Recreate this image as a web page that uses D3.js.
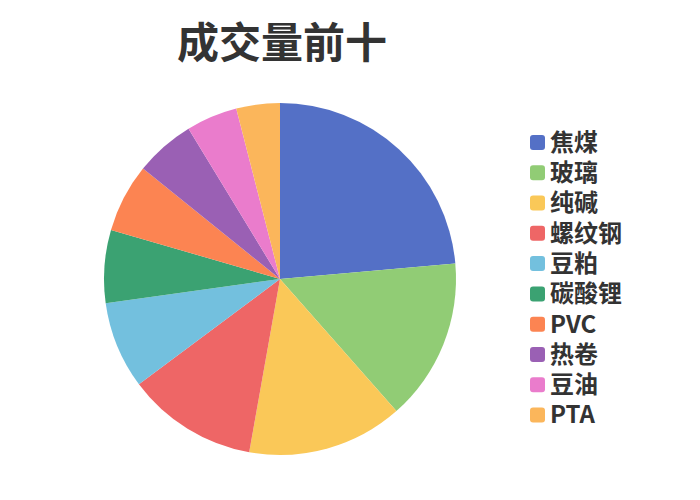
<!DOCTYPE html>
<html>
<head>
<meta charset="utf-8">
<script src="https://cdn.jsdelivr.net/npm/d3@7"></script>
<style>
  body { margin: 0; background: #fff; }
  text { font-family: "Noto Sans CJK SC", "Noto Sans", sans-serif; }
</style>
</head>
<body>
<div id="chart"></div>
<script>
const TITLE = "成交量前十";
const names = ["焦煤", "玻璃", "纯碱", "螺纹钢", "豆粕", "碳酸锂", "PVC", "热卷", "豆油", "PTA"];
const shares = [23.6, 14.9, 14.3, 12.0, 8.0, 6.7, 6.3, 5.5, 4.7, 4.0];
const colors = ["#5470c6", "#91cc75", "#fac858", "#ee6666", "#73c0de",
                "#3ba272", "#fc8452", "#9a60b4", "#ea7ccc", "#fbb65b"];

const width = 700, height = 500;
const cx = 280, cy = 279, radius = 176;

const svg = d3.select("#chart")
    .append("svg")
    .attr("width", width)
    .attr("height", height);

// title
svg.append("text")
    .attr("x", 282)
    .attr("y", 58)
    .attr("text-anchor", "middle")
    .attr("font-size", 42)
    .attr("font-weight", "bold")
    .attr("fill", "#333")
    .text(TITLE);

const color = d3.scaleOrdinal().domain(names).range(colors);

const pie = d3.pie().sort(null).value(d => d.value);
const arc = d3.arc().innerRadius(0).outerRadius(radius);

const data = names.map((n, i) => ({ name: n, value: shares[i] }));

svg.append("g")
    .attr("transform", `translate(${cx},${cy})`)
    .selectAll("path")
    .data(pie(data))
    .enter().append("path")
    .attr("d", arc)
    .attr("fill", d => color(d.data.name));

// legend on the right
const legendY = d3.scalePoint().domain(names).range([142.5, 415]);

const legend = svg.append("g")
    .selectAll("g")
    .data(names)
    .enter().append("g")
    .attr("transform", d => `translate(530,${legendY(d)})`);

legend.append("rect")
    .attr("x", 0)
    .attr("y", -7.5)
    .attr("width", 15)
    .attr("height", 15)
    .attr("rx", 3)
    .attr("fill", d => color(d));

legend.append("text")
    .attr("x", 20)
    .attr("y", 0)
    .attr("dy", "0.35em")
    .attr("font-size", 24)
    .attr("font-weight", "bold")
    .attr("fill", "#333")
    .text(d => d);
</script>
</body>
</html>
